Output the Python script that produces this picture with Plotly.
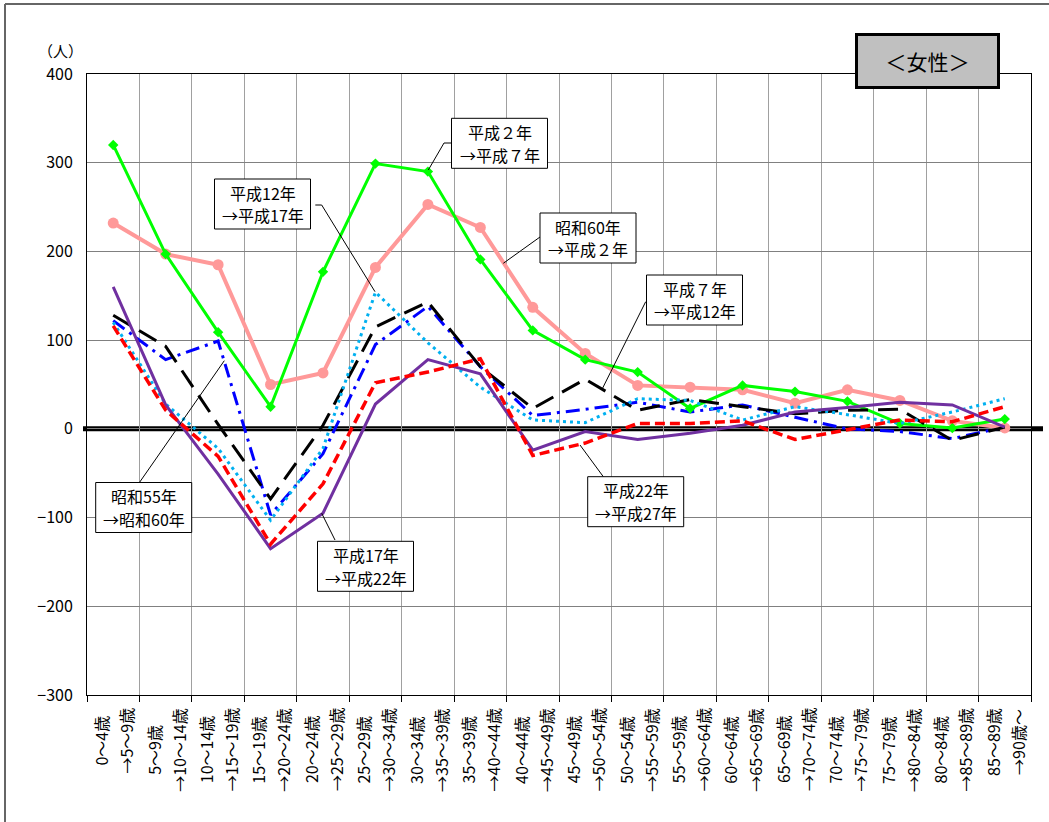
import plotly.graph_objects as go

# ---------------- data ----------------
line1 = ["0～4歳", "5～9歳", "10～14歳", "15～19歳", "20～24歳", "25～29歳", "30～34歳",
         "35～39歳", "40～44歳", "45～49歳", "50～54歳", "55～59歳", "60～64歳", "65～69歳",
         "70～74歳", "75～79歳", "80～84歳", "85～89歳"]
line2 = ["→5～9歳", "→10～14歳", "→15～19歳", "→20～24歳", "→25～29歳", "→30～34歳",
         "→35～39歳", "→40～44歳", "→45～49歳", "→50～54歳", "→55～59歳", "→60～64歳",
         "→65～69歳", "→70～74歳", "→75～79歳", "→80～84歳", "→85～89歳", "→90歳～"]
categories = [a + b for a, b in zip(line1, line2)]

s55_60 = [122, 78, 99, -97, -28, 95, 138, 70, 15, 22, 30, 19, 27, 13, 0, -3, -11, 2]
s60_h2 = [232, 197, 185, 50, 63, 182, 253, 227, 137, 85, 49, 47, 44, 29, 44, 32, 9, 1]
h2_h7 = [320, 197, 109, 25, 177, 299, 290, 191, 111, 78, 64, 23, 49, 42, 31, 6, 1, 11]
h7_h12 = [128, 93, 5, -79, 4, 115, 143, 70, 23, 56, 21, 33, 25, 17, 21, 22, -13, 2]
h12_h17 = [120, 28, -22, -103, -22, 154, 97, 47, 10, 7, 34, 32, 10, 25, 16, 6, 19, 34]
h17_h22 = [160, 27, -51, -135, -95, 28, 78, 62, -24, -3, -12, -5, 4, 19, 24, 30, 27, 2]
h22_h27 = [116, 21, -31, -130, -62, 52, 64, 79, -30, -16, 6, 6, 9, -12, -1, 10, 8, 25]

y_ticks = [400, 300, 200, 100, 0, -100, -200, -300]

FONT = "Noto Sans CJK JP"
W, H = 1049, 822
L, R, T, B = 87, 1031, 74, 695  # plot area in pixels


def xp(px):
    return (px - L) / (R - L)


def yp(py):
    return (B - py) / (B - T)


fig = go.Figure()

series = [
    ("昭和55年→昭和60年", s55_60, dict(color="#0000FF", width=3, dash="14px,6px,3px,6px"), None),
    ("昭和60年→平成２年", s60_h2, dict(color="#FF9999", width=4), dict(symbol="circle", size=11, color="#FF9999")),
    ("平成２年→平成７年", h2_h7, dict(color="#00FF00", width=3), dict(symbol="diamond", size=8, color="#00FF00")),
    ("平成７年→平成12年", h7_h12, dict(color="#000000", width=3, dash="20px,10px"), None),
    ("平成12年→平成17年", h12_h17, dict(color="#00B0F0", width=3, dash="3px,4px"), None),
    ("平成17年→平成22年", h17_h22, dict(color="#7030A0", width=3), None),
    ("平成22年→平成27年", h22_h27, dict(color="#FF0000", width=3.5, dash="10px,5px"), None),
]
for name, vals, ln, mk in series:
    fig.add_trace(go.Scatter(
        x=categories, y=vals, name=name,
        mode="lines+markers" if mk else "lines",
        line=ln, marker=mk, showlegend=False, cliponaxis=False,
    ))

annotations = []
shapes = []


def em_len(s):
    return sum(1.0 if ord(c) > 255 else 0.55 for c in s)


# x-axis labels (two rotated, centered lines per category)
FS_X = 16
top_px = 708
for cat, a, b in zip(categories, line1, line2):
    longest = max(em_len(a), em_len(b)) * FS_X
    cy = yp(top_px + longest / 2)
    for txt, sh in ((a, -12.5), (b, 12.5)):
        annotations.append(dict(
            x=cat, xref="x", y=cy, yref="paper", text=txt, textangle=-90,
            showarrow=False, xanchor="center", yanchor="middle", xshift=sh,
            font=dict(family=FONT, size=FS_X, color="black"),
        ))

# unit label
annotations.append(dict(x=xp(60), y=yp(50), xref="paper", yref="paper", text="（人）",
                        xanchor="center", yanchor="middle",
                        showarrow=False, font=dict(family=FONT, size=15, color="black")))

# title box
annotations.append(dict(x=xp(927.5), y=yp(61.5), xref="paper", yref="paper", text="＜女性＞",
                        xanchor="center", yanchor="middle",
                        showarrow=False, bgcolor="#C0C0C0", bordercolor="black", borderwidth=3,
                        borderpad=2, width=135, height=46,
                        font=dict(family=FONT, size=21, color="black")))

# callout boxes: (line 1, line 2, box center px, leader path px)
callouts = [
    ("平成２年", "→平成７年", (499.5, 143.3), [(428.3, 170), (444, 143), (452, 143)]),
    ("昭和60年", "→平成２年", (588, 238), [(540, 237), (503.3, 263.3)]),
    ("平成12年", "→平成17年", (262.5, 204), [(315.3, 205), (321.7, 205), (375, 291.7)]),
    ("平成７年", "→平成12年", (694.5, 300), [(645.7, 301.7), (601.7, 390)]),
    ("昭和55年", "→昭和60年", (143.7, 507.5), [(139.3, 482.7), (224.3, 360.7)]),
    ("平成17年", "→平成22年", (365.5, 566.3), [(335, 540), (321.7, 513.3)]),
    ("平成22年", "→平成27年", (635.7, 501.7), [(603.3, 476.7), (580, 445)]),
]
BW, BH = 96, 50
for t1, t2, (cx, cy), path in callouts:
    d = "M " + " L ".join(f"{xp(px)},{yp(py)}" for px, py in path)
    shapes.append(dict(type="path", xref="paper", yref="paper", path=d,
                       line=dict(color="black", width=1), layer="above"))
    shapes.append(dict(type="rect", xref="paper", yref="paper",
                       x0=xp(cx - BW / 2), x1=xp(cx + BW / 2),
                       y0=yp(cy + BH / 2), y1=yp(cy - BH / 2),
                       fillcolor="white", line=dict(color="black", width=1), layer="above"))
    for txt, dy in ((t1, -11.3), (t2, 11.3)):
        annotations.append(dict(x=xp(cx), y=yp(cy + dy), xref="paper", yref="paper", text=txt,
                                xanchor="center", yanchor="middle", showarrow=False,
                                font=dict(family=FONT, size=16, color="black")))

# thick zero line
shapes.append(dict(type="line", xref="paper", yref="y", x0=xp(83), x1=xp(1043), y0=0, y1=0,
                   line=dict(color="black", width=5), layer="between"))

# outer frame
shapes.append(dict(type="line", xref="paper", yref="paper", x0=xp(5), x1=xp(1060),
                   y0=yp(4), y1=yp(4), line=dict(color="#666666", width=2)))
shapes.append(dict(type="line", xref="paper", yref="paper", x0=xp(5), x1=xp(5),
                   y0=yp(4), y1=yp(840), line=dict(color="#666666", width=2)))

fig.update_layout(
    width=W, height=H,
    margin=dict(l=L, r=W - R, t=T, b=H - B, pad=0),
    paper_bgcolor="white", plot_bgcolor="white",
    font=dict(family=FONT, size=16, color="black"),
    annotations=annotations, shapes=shapes,
    xaxis=dict(
        type="category", categoryorder="array", categoryarray=categories,
        range=[-0.5, len(categories) - 0.5],
        showticklabels=False, tickson="boundaries", ticks="outside", ticklen=6,
        tickcolor="black", showgrid=True, gridcolor="#A0A0A0", gridwidth=1,
        showline=True, linecolor="black", linewidth=1, mirror=True, zeroline=False,
    ),
    yaxis=dict(
        range=[-300, 400], tickmode="array", tickvals=y_ticks,
        ticktext=[str(v) if v >= 0 else "−" + str(-v) for v in y_ticks],
        showgrid=True, gridcolor="#808080", gridwidth=1, zeroline=False,
        showline=True, linecolor="black", linewidth=1, mirror=True,
        ticks="", ticklabelstandoff=10,
        tickfont=dict(family=FONT, size=16, color="black"),
    ),
)

fig.write_html("out.html", config={"displayModeBar": False},
               post_script="document.body.style.margin='0';document.body.style.padding='0';")
